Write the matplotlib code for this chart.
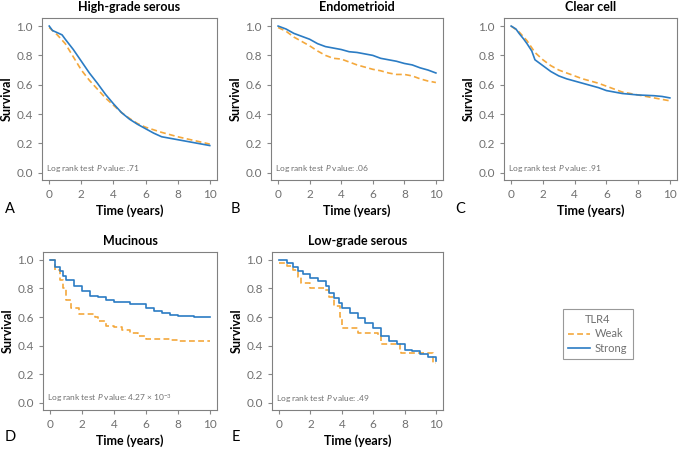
import matplotlib
matplotlib.use('Agg')
import matplotlib.pyplot as plt
from matplotlib.lines import Line2D

plt.rcParams['font.family'] = ['Lato', 'DejaVu Sans']
plt.rcParams['mathtext.fontset'] = 'custom'
plt.rcParams['mathtext.rm'] = 'Lato'
plt.rcParams['mathtext.it'] = 'Lato:italic'

BLUE = '#2b7cc4'
ORANGE = '#f4a83c'
GRAY = '#707070'

# ---- data ----
hgs_t_strong = [0, 0.2, 0.5, 0.8, 1, 1.5, 2, 2.5, 3, 3.5, 4, 4.5, 5, 5.5, 6, 6.5, 7, 8, 9, 10]
hgs_s_strong = [1.0, 0.97, 0.955, 0.94, 0.91, 0.84, 0.76, 0.68, 0.61, 0.535, 0.47, 0.41, 0.365, 0.33, 0.30, 0.27, 0.245, 0.225, 0.205, 0.185]
hgs_t_weak = [0, 0.5, 1, 1.5, 2, 2.5, 3, 3.5, 4, 4.5, 5, 5.5, 6, 7, 8, 9, 10]
hgs_s_weak = [0.99, 0.94, 0.88, 0.79, 0.70, 0.63, 0.57, 0.51, 0.46, 0.41, 0.37, 0.335, 0.31, 0.275, 0.245, 0.22, 0.195]

endo_t_strong = [0, 0.5, 1, 1.5, 2, 2.5, 3, 3.5, 4, 4.5, 5, 5.5, 6, 6.5, 7, 7.5, 8, 8.5, 9, 9.5, 10]
endo_s_strong = [1.0, 0.98, 0.95, 0.93, 0.91, 0.88, 0.86, 0.85, 0.84, 0.825, 0.82, 0.81, 0.80, 0.78, 0.77, 0.76, 0.745, 0.735, 0.715, 0.70, 0.68]
endo_t_weak = [0, 0.5, 1, 1.5, 2, 2.5, 3, 3.5, 4, 4.5, 5, 5.5, 6, 6.5, 7, 7.5, 8, 8.5, 9, 9.5, 10]
endo_s_weak = [0.99, 0.965, 0.925, 0.895, 0.865, 0.83, 0.80, 0.78, 0.775, 0.755, 0.735, 0.72, 0.705, 0.695, 0.68, 0.67, 0.67, 0.66, 0.64, 0.625, 0.615]

cc_t_strong = [0, 0.3, 0.5, 0.8, 1, 1.3, 1.5, 2, 2.5, 3, 3.5, 4, 4.5, 5, 5.5, 6, 6.5, 7, 8, 9, 9.5, 10]
cc_s_strong = [1.0, 0.98, 0.95, 0.91, 0.88, 0.83, 0.77, 0.73, 0.69, 0.66, 0.64, 0.625, 0.61, 0.595, 0.58, 0.56, 0.55, 0.54, 0.53, 0.525, 0.52, 0.51]
cc_t_weak = [0, 0.5, 1, 1.5, 2, 2.5, 3, 3.5, 4, 4.5, 5, 5.5, 6, 6.5, 7, 8, 9, 10]
cc_s_weak = [1.0, 0.96, 0.90, 0.82, 0.77, 0.73, 0.70, 0.68, 0.66, 0.64, 0.625, 0.61, 0.59, 0.57, 0.55, 0.53, 0.51, 0.49]

muc_t_strong = [0, 0.3, 0.6, 0.8, 1, 1.5, 2, 2.5, 3, 3.5, 4, 5, 6, 6.5, 7, 7.5, 8, 9, 10]
muc_s_strong = [1.0, 0.95, 0.92, 0.89, 0.86, 0.82, 0.78, 0.745, 0.74, 0.72, 0.705, 0.69, 0.665, 0.645, 0.63, 0.615, 0.61, 0.60, 0.60]
muc_t_weak = [0, 0.3, 0.6, 0.8, 1, 1.3, 1.8, 2.8, 3, 3.5, 4, 4.5, 5, 5.5, 6, 7, 7.5, 8, 10]
muc_s_weak = [1.0, 0.93, 0.86, 0.80, 0.72, 0.66, 0.62, 0.60, 0.57, 0.54, 0.53, 0.51, 0.49, 0.47, 0.45, 0.45, 0.44, 0.43, 0.43]

lgs_t_strong = [0, 0.5, 0.9, 1.2, 1.5, 2, 2.5, 3, 3.2, 3.5, 3.8, 4, 4.5, 5, 5.5, 6, 6.5, 7, 7.5, 8, 8.5, 9, 9.5, 10]
lgs_s_strong = [1.0, 0.98, 0.95, 0.92, 0.90, 0.87, 0.85, 0.82, 0.77, 0.73, 0.70, 0.66, 0.63, 0.59, 0.56, 0.52, 0.47, 0.43, 0.41, 0.37, 0.36, 0.34, 0.32, 0.29]
lgs_t_weak = [0, 0.5, 0.9, 1.2, 1.4, 2, 2.9, 3.2, 3.5, 3.9, 4.0, 4.7, 5, 6.3, 6.5, 7.7, 7.8, 9.8, 10]
lgs_s_weak = [0.98, 0.96, 0.93, 0.88, 0.84, 0.80, 0.79, 0.74, 0.68, 0.60, 0.52, 0.52, 0.49, 0.47, 0.41, 0.37, 0.35, 0.28, 0.28]

titles = ['High-grade serous', 'Endometrioid', 'Clear cell', 'Mucinous', 'Low-grade serous']
letters = ['A', 'B', 'C', 'D', 'E']
pvalues = ['.71', '.06', '.91', r'4.27 $\times$ 10$^{-3}$', '.49']
strong = [(hgs_t_strong, hgs_s_strong), (endo_t_strong, endo_s_strong), (cc_t_strong, cc_s_strong),
          (muc_t_strong, muc_s_strong), (lgs_t_strong, lgs_s_strong)]
weak = [(hgs_t_weak, hgs_s_weak), (endo_t_weak, endo_s_weak), (cc_t_weak, cc_s_weak),
        (muc_t_weak, muc_s_weak), (lgs_t_weak, lgs_s_weak)]
# large groups look smooth, small groups show steps
stepped = [False, False, False, True, True]

W, H = 682, 451
fig = plt.figure(figsize=(W / 100, H / 100), dpi=100)

# axes boxes in pixels: left, top, right, bottom
boxes = [(42, 18, 217, 180), (271, 18, 443, 180), (504, 18, 677, 180),
         (43, 252, 217, 410), (272, 252, 443, 410)]
letter_pos = [(5, 213), (231, 213), (455, 213), (5, 441), (232, 441)]

DASH = (0, (3.5, 2))
for i in range(5):
    l, t, r, b = boxes[i]
    ax = fig.add_axes([l / W, 1 - b / H, (r - l) / W, (b - t) / H])
    if stepped[i]:
        ax.step(weak[i][0], weak[i][1], where='post', color=ORANGE, lw=1.2, ls=DASH)
        ax.step(strong[i][0], strong[i][1], where='post', color=BLUE, lw=1.2)
    else:
        ax.plot(weak[i][0], weak[i][1], color=ORANGE, lw=1.2, ls=DASH)
        ax.plot(strong[i][0], strong[i][1], color=BLUE, lw=1.2)
    ax.set_xlim(-0.45, 10.45)
    ax.set_ylim(-0.05, 1.055)
    ax.set_xticks([0, 2, 4, 6, 8, 10])
    ax.set_yticks([0, 0.2, 0.4, 0.6, 0.8, 1.0])
    ax.set_yticklabels(['0.0', '0.2', '0.4', '0.6', '0.8', '1.0'])
    ax.tick_params(colors='#888888', labelsize=8.5, length=3, width=0.8, labelcolor=GRAY)
    for s in ax.spines.values():
        s.set_color('#808080')
        s.set_linewidth(0.8)
    ax.set_title(titles[i], fontsize=9, fontweight='bold', pad=5)
    ax.set_xlabel('Time (years)', fontsize=9, fontweight='bold', labelpad=3)
    ax.set_ylabel('Survival', fontsize=9, fontweight='bold', labelpad=3)
    ax.text(0.025, 0.035, 'Log rank test $\\it{P}$ value: ' + pvalues[i], transform=ax.transAxes,
            fontsize=6, color=GRAY, va='bottom', ha='left')
    fig.text(letter_pos[i][0] / W, 1 - letter_pos[i][1] / H, letters[i], fontsize=10.5)

handles = [Line2D([], [], color=ORANGE, lw=1.2, ls=DASH),
           Line2D([], [], color=BLUE, lw=1.2)]
leg = fig.legend(handles, ['Weak', 'Strong'], title='TLR4', loc='upper left',
                 bbox_to_anchor=(557 / W, 1 - 303 / H), fontsize=8, title_fontsize=8,
                 frameon=True, fancybox=False, edgecolor='#808080', handlelength=2.0,
                 handletextpad=0.4, borderpad=0.5, labelspacing=0.3)
leg.get_frame().set_linewidth(0.8)
for txt in leg.get_texts():
    txt.set_color(GRAY)
leg.get_title().set_color(GRAY)

fig.savefig('out.png', dpi=100)
